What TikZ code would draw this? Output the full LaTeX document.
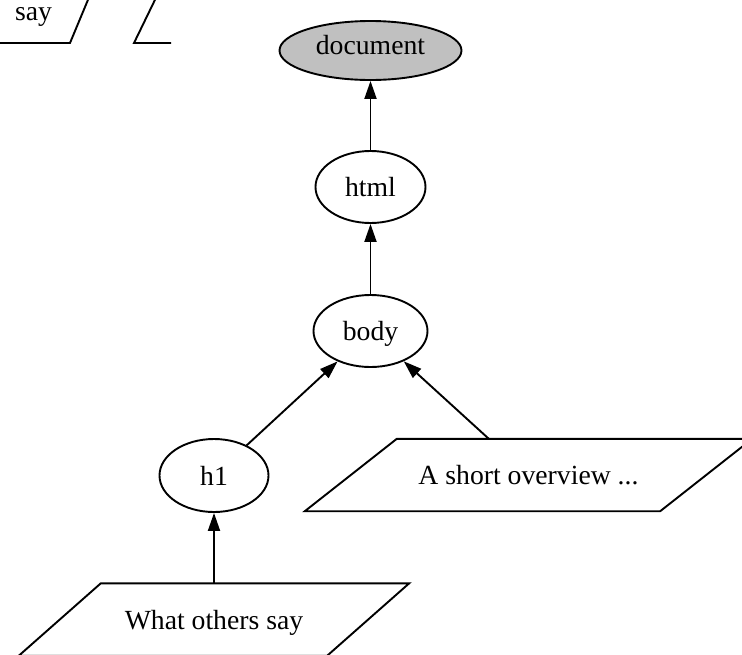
\documentclass[tikz,border=0pt]{standalone}
\usepackage{fontspec}
\setmainfont{Liberation Serif}
\usetikzlibrary{arrows.meta,shapes.geometric,calc}
\definecolor{nodegray}{HTML}{C0C0C0}
\tikzset{
  lbl/.style={font=\fontsize{27.7}{33}\selectfont, text height=19pt, text depth=0pt, inner sep=0pt},
  oval/.style={lbl, ellipse, draw, line width=1.9pt},
  slab/.style={lbl, rectangle, draw=none},
  outline/.style={line width=1.9pt, line join=miter},
  link/.style={line width=1.9pt, -{Triangle[length=18pt,width=12pt]}},
}
\begin{document}
\begin{tikzpicture}[x=1pt,y=-1pt]
\useasboundingbox (0,0) rectangle (742,654);
\clip (0,0) rectangle (742,654);

% element nodes
\node[oval, fill=nodegray, minimum width=182pt, minimum height=59pt, text depth=12pt] (document) at (370.5,50.5) {document};
\node[oval, minimum width=110pt, minimum height=72pt] (html) at (370.5,187) {html};
\node[oval, minimum width=114pt, minimum height=72pt] (body) at (370.5,331) {body};
\node[oval, minimum width=109pt, minimum height=73pt] (h1) at (214,475.5) {h1};

% text nodes (parallelograms)
\node[slab, minimum width=447pt, minimum height=72pt] (overview) at (528.5,475) {A short overview ...};
\draw[outline] (overview.south west) -- ($(overview.south east)+(-92,0)$)
  -- (overview.north east) -- ($(overview.north west)+(92,0)$) -- cycle;

\node[slab, minimum width=390pt, minimum height=72pt] (others) at (214,619.5) {What others say};
\draw[outline] (others.south west) -- ($(others.south east)+(-82,0)$)
  -- (others.north east) -- ($(others.north west)+(82,0)$) -- cycle;

% partly visible shapes at the top left
\node[lbl, text height=13pt, text depth=6pt] (say) at (33.5,16.5) {say};
\draw[outline] (-60,43) -- (70,43) -- (100,-29);
\draw[outline] (171,43) -- (134,43) -- (169,-29);

% edges from child to parent
\draw[link] (html) -- (document);
\draw[link] (body) -- (html);
\draw[link] (h1) -- (body);
\draw[link] (overview) -- (body);
\draw[link] (others) -- (h1);
\end{tikzpicture}
\end{document}
